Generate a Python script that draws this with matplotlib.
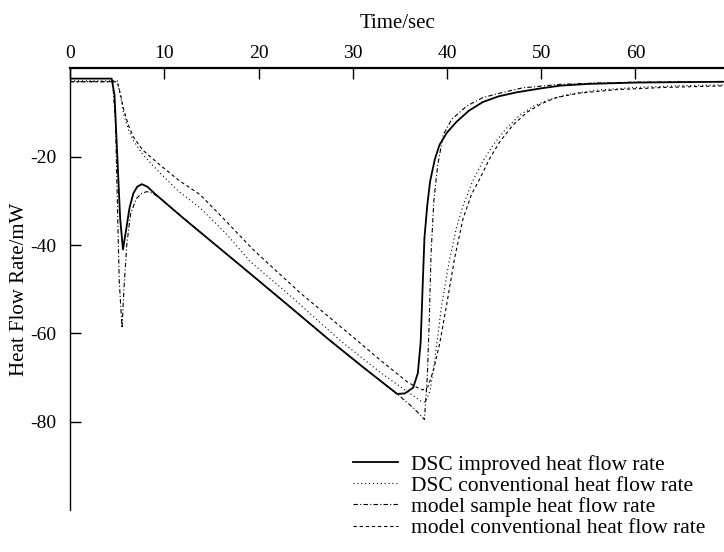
import matplotlib.pyplot as plt

plt.rcParams['font.family'] = 'Liberation Serif'
plt.rcParams['axes.unicode_minus'] = False

# DSC improved heat flow rate
t_improved = [0, 4.4, 4.7, 5.0, 5.3, 5.6, 5.9, 6.3, 6.7, 7.1, 7.6, 8.2, 9, 12, 15, 18.9, 23, 27.4, 31,
              34.7, 35.5, 36.4, 36.9, 37.2, 37.4, 37.6, 37.9, 38.2, 38.7, 39.2, 40, 41, 42.3, 43.8,
              45.5, 47.4, 50, 52, 55, 60, 65, 70]
q_improved = [-2.3, -2.3, -6, -20, -34, -41, -37, -31.5, -28.3, -26.8, -26.2, -26.8, -28.4, -33.9,
              -39.2, -46.1, -53.4, -61.3, -67.5, -73.7, -73.6, -72.3, -69, -62, -50, -38.4, -31,
              -25.6, -20.6, -17.3, -14.5, -12.1, -9.6, -7.6, -6.3, -5.4, -4.5, -3.9, -3.5, -3.2,
              -3.1, -3.0]

# DSC conventional heat flow rate
t_conv = [0, 5.0, 5.3, 5.7, 6.2, 6.7, 7.7, 9.5, 11.5, 13.8, 16.5, 19.1, 23, 28.6, 33, 37.2, 37.7,
          38.2, 38.7, 39.4, 40.2, 41, 41.8, 42.7, 43.8, 44.9, 46.2, 47.7, 49.2, 50.9, 53, 56, 60,
          65, 70]
q_conv = [-2.8, -2.8, -6, -10.5, -14, -16.3, -19.5, -23.6, -27.8, -31.6, -37.3, -43.7, -50.8, -61.5,
          -69, -75.3, -75.6, -73, -66, -54, -44, -36, -30.5, -25.6, -21, -17.3, -13.8, -10.6, -8.5,
          -7, -5.8, -4.9, -4.3, -3.9, -3.7]

# model sample heat flow rate
t_model_s = [0, 4.5, 4.8, 5.0, 5.2, 5.5, 5.7, 6.0, 6.4, 7.0, 7.6, 8.1, 8.7, 9.5, 12, 15, 18.9, 23,
             27.4, 31, 34.7, 36.5, 37.6, 37.9, 38.1, 38.3, 38.6, 39.0, 39.6, 40.5, 42.1, 43.8, 45.6,
             48, 52, 56, 60, 65, 70]
q_model_s = [-3.0, -3.0, -12, -30, -48, -58.8, -50, -40, -33, -29.5, -28.3, -27.9, -28.2, -29.3,
             -33.8, -39.2, -46.1, -53.4, -61.3, -67.5, -73.7, -77.0, -79.5, -70, -58, -42, -30,
             -22, -15, -11.5, -8.5, -6.6, -5.6, -4.4, -3.6, -3.3, -3.1, -3.0, -3.0]

# model conventional heat flow rate
t_model_c = [0, 5.0, 5.3, 5.7, 6.2, 6.7, 7.7, 9.5, 11.5, 13.8, 16.5, 19.4, 24.4, 30, 33, 35.8, 36.6,
             37.4, 38, 38.6, 39.2, 40, 40.8, 41.7, 42.6, 43.5, 44.5, 45.6, 47, 48.5, 50, 51.6, 54,
             58, 63, 70]
q_model_c = [-3.0, -3.0, -5.5, -9.5, -13, -15.5, -18.5, -21.8, -25.3, -28.6, -34.5, -41, -50.8,
             -60.8, -66.2, -71, -72, -72.8, -72, -68, -62.5, -53, -43, -34, -28.5, -24.9, -20.5,
             -16.6, -12.8, -9.9, -8, -6.6, -5.6, -4.8, -4.3, -3.9]

x_ticks = [0, 10, 20, 30, 40, 50, 60]
y_ticks = [-20, -40, -60, -80]

fig = plt.figure(figsize=(7.24, 5.52), dpi=100)
ax = fig.add_axes([0.097, 0.076, 0.903, 0.800])

ax.plot(t_improved, q_improved, color='black', lw=1.3, ls='-', label='DSC improved heat flow rate')
ax.plot(t_conv, q_conv, color='black', lw=0.8, ls=(0, (1, 2.5)), label='DSC conventional heat flow rate')
ax.plot(t_model_s, q_model_s, color='black', lw=0.8, ls=(0, (4, 2, 1, 2)), label='model sample heat flow rate')
ax.plot(t_model_c, q_model_c, color='black', lw=0.8, ls=(0, (3, 2.5)), label='model conventional heat flow rate')

ax.set_xlim(0, 69.4)
ax.set_ylim(-100, 0)

# x axis runs along the top at zero heat flow
ax.spines['right'].set_visible(False)
ax.spines['bottom'].set_visible(False)
ax.spines['top'].set_linewidth(1.6)
ax.spines['left'].set_linewidth(1.0)
ax.xaxis.tick_top()
ax.xaxis.set_label_position('top')
ax.set_xticks(x_ticks)
ax.set_yticks(y_ticks)
ax.tick_params(axis='both', direction='in', length=8, width=1, labelsize=14)
ax.tick_params(axis='x', pad=5)
ax.tick_params(axis='y', pad=10)
ax.set_xlabel('Time/sec', fontsize=15, labelpad=12)
ax.set_ylabel('Heat Flow Rate/mW', fontsize=15, labelpad=1)

ax.legend(loc='upper left', bbox_to_anchor=(0.473, 0.196), bbox_transform=fig.transFigure,
          frameon=False, fontsize=15.5, handlelength=2.1, handletextpad=0.6, labelspacing=0.05,
          borderpad=0)

plt.savefig('out.png', dpi=100)
